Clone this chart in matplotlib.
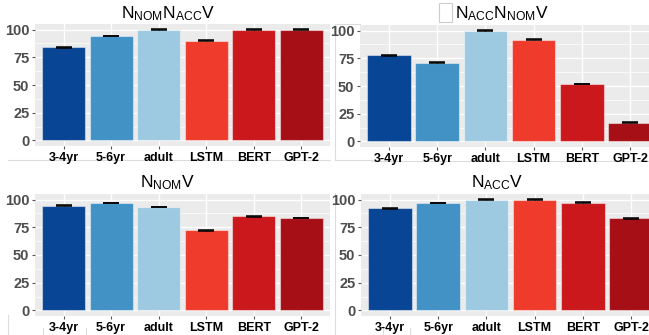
import matplotlib
matplotlib.use("Agg")
from matplotlib import pyplot as plt
from matplotlib.lines import Line2D
from matplotlib.patches import Rectangle
import numpy as np

plt.rcParams['font.family'] = ['Liberation Sans', 'DejaVu Sans']

# accuracy (%) per group
groups = ['3-4yr', '5-6yr', 'adult', 'LSTM', 'BERT', 'GPT-2']
colors = ['#084594', '#4292c6', '#9ecae1', '#ef3b2c', '#cb181d', '#a50f15']

nom_acc_v = [84.2, 94.1, 100, 90.1, 100, 100]
nom_acc_err = [0.4, 0.3, 0.15, 0.3, 0.15, 0.15]
acc_nom_v = [77.7, 71.0, 100, 91.8, 51.8, 16.9]
acc_nom_err = [0.4, 0.4, 0.15, 0.3, 0.4, 0.3]
nom_v = [94.5, 97.0, 93.4, 72.4, 84.8, 83.4]
nom_err = [0.3, 0.3, 0.3, 0.4, 0.3, 0.3]
acc_v = [92.2, 96.8, 100, 100, 97.1, 83.1]
acc_err = [0.3, 0.3, 0.15, 0.15, 0.3, 0.3]

titles = [r'$\mathregular{N_{NOM}N_{ACC}V}$', r'$\mathregular{N_{ACC}N_{NOM}V}$',
          r'$\mathregular{N_{NOM}V}$', r'$\mathregular{N_{ACC}V}$']

W, H = 649, 335
fig = plt.figure(figsize=(W / 100, H / 100), dpi=100)

# faint screenshot borders
bg = fig.add_axes([0, 0, 1, 1])
bg.set_xlim(0, W)
bg.set_ylim(H, 0)
bg.axis('off')
bg.set_zorder(-1)
faint = '#dcdcdc'
segs = [((335, 24), (335, 160)), ((335, 24), (360, 24)), ((335, 160), (372, 160)),
        ((8, 160), (330, 160)), ((372, 161), (649, 161)),
        ((335, 193), (335, 335)), ((8, 315), (8, 335)), ((43, 328), (43, 335)),
        ((86, 328), (86, 335)), ((383, 328), (383, 335)), ((410, 328), (410, 335))]
for (x0, y0), (x1, y1) in segs:
    bg.add_line(Line2D([x0, x1], [y0, y1], color=faint, lw=0.8))
bg.add_patch(Rectangle((439, 3), 13, 19, fill=False, ec='#cccccc', lw=0.8))


def px_axes(x0, y0, x1, y1):
    return fig.add_axes([x0 / W, 1 - y1 / H, (x1 - x0) / W, (y1 - y0) / H])


def panel(ax, vals, errs):
    x = np.arange(len(groups))
    ax.set_facecolor('#ebebeb')
    ax.bar(x, vals, width=0.9, color=colors, edgecolor=(1, 1, 1, 0.45), linewidth=0.8, zorder=2)
    ax.errorbar(x, vals, yerr=errs, fmt='none', ecolor='black', elinewidth=0.8,
                capsize=5.8, capthick=1.1, zorder=3)
    ax.set_xlim(-0.6, 5.6)
    ax.set_ylim(-5, 105)
    ax.set_yticks([0, 25, 50, 75, 100])
    ax.set_yticks([12.5, 37.5, 62.5, 87.5], minor=True)
    ax.set_xticks(x)
    ax.set_xticklabels(groups, fontsize=9, fontweight='bold', color='black')
    ax.tick_params(axis='y', labelsize=10.5, labelcolor='#4d4d4d', length=2.5,
                   color='#555555', pad=1.5)
    ax.tick_params(axis='y', which='minor', length=0)
    ax.tick_params(axis='x', length=2.5, color='#555555', pad=2)
    for lbl in ax.get_yticklabels():
        lbl.set_fontweight('bold')
    ax.grid(True, which='major', color='white', lw=1.0, zorder=0)
    ax.grid(True, which='minor', axis='y', color='white', lw=0.5, zorder=0)
    ax.set_axisbelow(True)
    for s in ax.spines.values():
        s.set_visible(False)


ax1 = px_axes(35, 24, 330, 146)
ax2 = px_axes(360, 25, 659, 147)
ax3 = px_axes(35, 194, 330, 316)
ax4 = px_axes(361, 194, 660, 316)

panel(ax1, nom_acc_v, nom_acc_err)
panel(ax2, acc_nom_v, acc_nom_err)
panel(ax3, nom_v, nom_err)
panel(ax4, acc_v, acc_err)

title_pos = [(168, 14), (502, 14), (168, 183), (497, 183)]
for t, (tx, ty) in zip(titles, title_pos):
    fig.text(tx / W, 1 - ty / H, t, ha='center', va='center', fontsize=12.5)

fig.savefig('out.png', dpi=100)
